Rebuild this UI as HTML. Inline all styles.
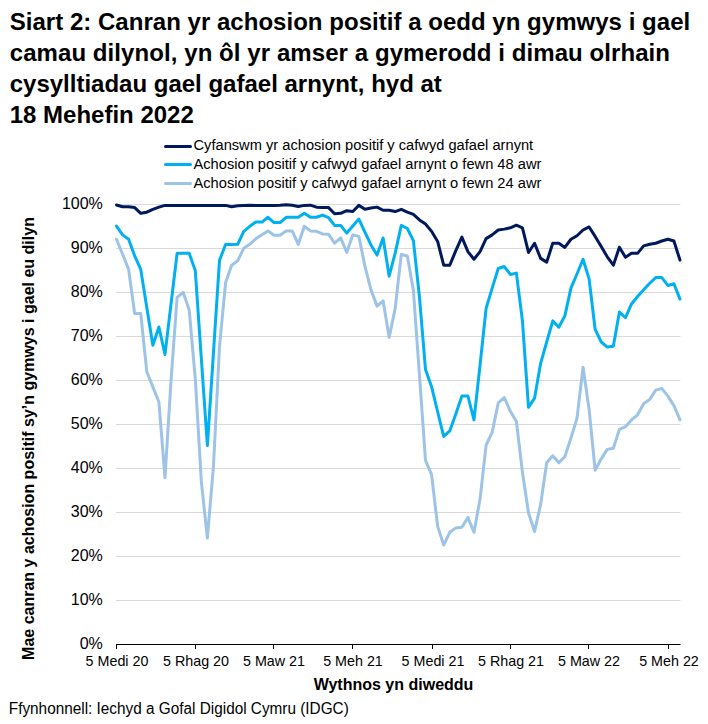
<!DOCTYPE html>
<html><head><meta charset="utf-8"><style>
html,body{margin:0;padding:0;background:#fff;}
svg{display:block;}
text{font-family:'Liberation Sans', sans-serif;fill:#000;}
</style></head><body>
<svg width="708" height="724" viewBox="0 0 708 724">
<rect width="708" height="724" fill="#fff"/>
<g font-size="24" font-weight="bold">
<text x="9.7" y="29.8" textLength="680.5">Siart 2: Canran yr achosion positif a oedd yn gymwys i gael</text>
<text x="9.7" y="60.6" textLength="660.3">camau dilynol, yn ôl yr amser a gymerodd i dimau olrhain</text>
<text x="9.7" y="91.5">cysylltiadau gael gafael arnynt, hyd at</text>
<text x="9.7" y="123">18 Mehefin 2022</text>
</g>
<g stroke-width="3" stroke-linecap="round">
<line x1="165.5" y1="146.5" x2="190.5" y2="146.5" stroke="#00185c"/>
<line x1="165.5" y1="164.5" x2="190.5" y2="164.5" stroke="#00b0f0"/>
<line x1="165.5" y1="183.5" x2="190.5" y2="183.5" stroke="#9dc3e6"/>
</g>
<g font-size="14.67">
<text x="193.5" y="150.3">Cyfanswm yr achosion positif y cafwyd gafael arnynt</text>
<text x="193.5" y="169">Achosion positif y cafwyd gafael arnynt o fewn 48 awr</text>
<text x="193.5" y="188">Achosion positif y cafwyd gafael arnynt o fewn 24 awr</text>
</g>
<g stroke="#d9d9d9" stroke-width="1"><line x1="116" y1="204.5" x2="680.5" y2="204.5"/><line x1="116" y1="248.5" x2="680.5" y2="248.5"/><line x1="116" y1="292.5" x2="680.5" y2="292.5"/><line x1="116" y1="336.5" x2="680.5" y2="336.5"/><line x1="116" y1="380.5" x2="680.5" y2="380.5"/><line x1="116" y1="424.5" x2="680.5" y2="424.5"/><line x1="116" y1="468.5" x2="680.5" y2="468.5"/><line x1="116" y1="512.5" x2="680.5" y2="512.5"/><line x1="116" y1="556.5" x2="680.5" y2="556.5"/><line x1="116" y1="600.5" x2="680.5" y2="600.5"/></g>
<g font-size="16" text-anchor="end"><text x="102.8" y="208.8">100%</text><text x="102.8" y="252.8">90%</text><text x="102.8" y="296.8">80%</text><text x="102.8" y="340.8">70%</text><text x="102.8" y="384.8">60%</text><text x="102.8" y="428.8">50%</text><text x="102.8" y="472.8">40%</text><text x="102.8" y="516.8">30%</text><text x="102.8" y="560.8">20%</text><text x="102.8" y="604.8">10%</text><text x="102.8" y="648.8">0%</text></g>
<g fill="none" stroke-width="3" stroke-linejoin="round" stroke-linecap="round">
<polyline points="116.50,239.26 122.56,254.22 128.62,269.40 134.68,313.62 140.74,313.62 146.80,371.70 152.85,386.88 158.91,402.06 164.97,477.74 171.03,380.50 177.09,297.34 183.15,292.28 189.21,310.10 195.27,378.30 201.33,481.70 207.38,538.02 213.44,466.30 219.50,346.40 225.56,282.82 231.62,265.22 237.68,260.82 243.74,248.28 249.80,244.32 255.86,238.82 261.92,234.86 267.98,230.90 274.03,235.30 280.09,235.30 286.15,230.90 292.21,230.90 298.27,244.32 304.33,226.28 310.39,230.90 316.45,231.34 322.51,233.98 328.56,234.20 334.62,243.22 340.68,237.94 346.74,252.46 352.80,234.86 358.86,236.40 364.92,266.10 370.98,289.86 377.04,306.14 383.10,300.86 389.16,337.38 395.21,308.34 401.27,254.44 407.33,255.98 413.39,290.30 419.45,375.22 425.51,460.36 431.57,474.66 437.63,526.36 443.69,545.06 449.75,532.30 455.80,527.90 461.86,527.24 467.92,517.56 473.98,532.30 480.04,499.30 486.10,445.18 492.16,432.42 498.22,402.94 504.28,397.66 510.34,411.30 516.39,421.42 522.45,472.24 528.51,512.94 534.57,531.42 540.63,504.36 546.69,462.78 552.75,455.74 558.81,462.78 564.87,456.62 570.92,438.14 576.98,418.34 583.04,367.30 589.10,409.54 595.16,470.26 601.22,458.82 607.28,449.36 613.34,448.26 619.40,429.34 625.46,426.70 631.51,419.88 637.57,414.82 643.63,403.82 649.69,399.42 655.75,390.18 661.81,388.42 667.87,396.12 673.93,405.58 679.99,419.88" stroke="#9dc3e6"/>
<polyline points="116.50,226.06 122.56,234.86 128.62,239.26 134.68,255.98 140.74,269.40 146.80,307.46 152.85,345.30 158.91,327.04 164.97,354.54 171.03,303.94 177.09,253.34 183.15,253.34 189.21,253.34 195.27,270.50 201.33,358.50 207.38,445.62 213.44,352.78 219.50,260.38 225.56,244.54 231.62,244.54 237.68,244.32 243.74,231.34 249.80,226.28 255.86,222.10 261.92,222.10 267.98,217.26 274.03,222.54 280.09,222.54 286.15,217.26 292.21,217.26 298.27,217.26 304.33,213.30 310.39,217.26 316.45,217.26 322.51,215.06 328.56,217.70 334.62,225.40 340.68,225.40 346.74,233.10 352.80,226.06 358.86,219.02 364.92,232.22 370.98,244.98 377.04,255.10 383.10,237.94 389.16,276.22 395.21,252.90 401.27,225.40 407.33,228.48 413.39,240.58 419.45,296.90 425.51,369.50 431.57,386.66 437.63,411.74 443.69,436.38 449.75,430.88 455.80,413.94 461.86,396.12 467.92,396.12 473.98,419.88 480.04,365.10 486.10,308.34 492.16,288.10 498.22,268.52 504.28,266.54 510.34,274.46 516.39,273.14 522.45,321.10 528.51,407.34 534.57,398.10 540.63,363.34 546.69,342.00 552.75,320.88 558.81,327.26 564.87,315.82 570.92,288.10 576.98,274.02 583.04,259.28 589.10,278.86 595.16,329.46 601.22,342.00 607.28,347.06 613.34,346.18 619.40,312.08 625.46,317.58 631.51,303.94 637.57,296.46 643.63,289.86 649.69,283.26 655.75,277.54 661.81,277.54 667.87,285.46 673.93,283.70 679.99,299.10" stroke="#00b0f0"/>
<polyline points="116.50,204.94 122.56,206.70 128.62,206.70 134.68,207.58 140.74,213.30 146.80,212.20 152.85,209.34 158.91,207.14 164.97,205.38 171.03,205.38 177.09,205.38 183.15,205.38 189.21,205.38 195.27,205.38 201.33,205.38 207.38,205.38 213.44,205.38 219.50,205.38 225.56,205.38 231.62,206.70 237.68,205.82 243.74,205.38 249.80,205.16 255.86,205.38 261.92,205.38 267.98,205.38 274.03,205.38 280.09,205.16 286.15,204.72 292.21,205.16 298.27,206.48 304.33,205.38 310.39,205.16 316.45,207.14 322.51,207.58 328.56,207.58 334.62,213.74 340.68,213.30 346.74,210.66 352.80,211.54 358.86,205.38 364.92,209.34 370.98,208.02 377.04,207.14 383.10,210.22 389.16,210.22 395.21,211.54 401.27,209.34 407.33,212.20 413.39,214.40 419.45,219.90 425.51,224.08 431.57,231.34 437.63,241.46 443.69,265.22 449.75,265.22 455.80,250.70 461.86,237.06 467.92,251.58 473.98,259.28 480.04,251.58 486.10,238.60 492.16,234.86 498.22,230.02 504.28,229.14 510.34,227.82 516.39,225.18 522.45,227.82 528.51,252.46 534.57,243.22 540.63,258.40 546.69,262.14 552.75,243.22 558.81,243.22 564.87,247.40 570.92,239.26 576.98,235.74 583.04,230.02 589.10,226.94 595.16,236.40 601.22,246.52 607.28,256.86 613.34,265.22 619.40,247.18 625.46,257.30 631.51,253.34 637.57,253.34 643.63,245.86 649.69,244.32 655.75,243.22 661.81,241.02 667.87,239.26 673.93,241.02 679.99,260.16" stroke="#00185c"/>
</g>
<g stroke="#000" stroke-width="1"><line x1="116" y1="644.5" x2="680.5" y2="644.5"/><line x1="116.5" y1="644" x2="116.5" y2="649"/><line x1="195.5" y1="644" x2="195.5" y2="649"/><line x1="273.5" y1="644" x2="273.5" y2="649"/><line x1="352.5" y1="644" x2="352.5" y2="649"/><line x1="432.5" y1="644" x2="432.5" y2="649"/><line x1="510.5" y1="644" x2="510.5" y2="649"/><line x1="588.5" y1="644" x2="588.5" y2="649"/><line x1="668.5" y1="644" x2="668.5" y2="649"/></g>
<g font-size="14.3" text-anchor="middle"><text x="117.0" y="666">5 Medi 20</text><text x="196.0" y="666">5 Rhag 20</text><text x="274.0" y="666">5 Maw 21</text><text x="353.0" y="666">5 Meh 21</text><text x="433.0" y="666">5 Medi 21</text><text x="511.0" y="666">5 Rhag 21</text><text x="589.0" y="666">5 Maw 22</text><text x="669.0" y="666">5 Meh 22</text></g>
<text x="393.5" y="690.3" font-size="16" font-weight="bold" text-anchor="middle">Wythnos yn diweddu</text>
<text transform="translate(34,438.5) rotate(-90)" font-size="16" font-weight="bold" text-anchor="middle">Mae canran y achosion positif sy’n gymwys i gael eu dilyn</text>
<text x="8.8" y="714" font-size="16" textLength="340" lengthAdjust="spacingAndGlyphs">Ffynhonnell: Iechyd a Gofal Digidol Cymru (IDGC)</text>
</svg>
</body></html>
